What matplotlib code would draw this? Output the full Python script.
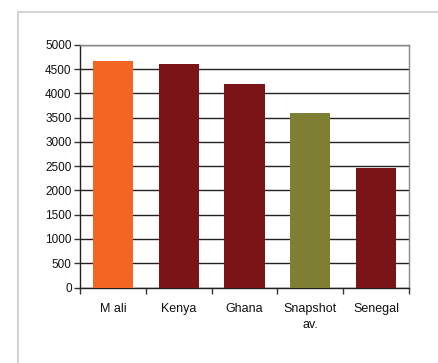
import matplotlib
matplotlib.use("Agg")
import matplotlib.pyplot as plt
from matplotlib.lines import Line2D

categories = ["M ali", "Kenya", "Ghana", "Snapshot\nav.", "Senegal"]
values = [4670, 4610, 4200, 3600, 2460]
colors = ["#F26522", "#7B1416", "#7B1416", "#7F7F33", "#7B1416"]
yticks = [0, 500, 1000, 1500, 2000, 2500, 3000, 3500, 4000, 4500, 5000]

W, H = 438, 363
fig = plt.figure(figsize=(W / 100, H / 100), dpi=100)
plt.rcParams['font.family'] = ['Liberation Sans', 'DejaVu Sans']

# outer frame
fig.add_artist(Line2D([18 / W, 18 / W], [0, 1 - 12 / H], color="#D4D4D4", lw=1.5, transform=fig.transFigure))
fig.add_artist(Line2D([18 / W, 1], [1 - 12 / H, 1 - 12 / H], color="#D4D4D4", lw=1.5, transform=fig.transFigure))

left, right, top, bottom = 80, 409, 45, 287.5
ax = fig.add_axes([left / W, 1 - bottom / H, (right - left) / W, (bottom - top) / H])

x = list(range(len(categories)))
ax.bar(x, values, width=0.61, color=colors, zorder=3)
ax.set_xlim(-0.5, len(categories) - 0.5)
ax.set_ylim(0, 5000)
ax.set_yticks(yticks)
ax.set_yticklabels([str(v) for v in yticks], fontsize=8.5, color='#111111')
ax.set_xticks([i - 0.5 for i in range(len(categories) + 1)], minor=False)
ax.set_xticklabels([])
ax.set_xticks(x, minor=True)
ax.set_xticklabels(categories, minor=True, fontsize=9, linespacing=1.45, color='#111111')
ax.tick_params(axis='x', which='minor', length=0, pad=11)
ax.tick_params(axis='x', which='major', length=4, width=1, direction='out', color='#333333')
ax.tick_params(axis='y', length=4, width=1, direction='out', color='#333333', pad=2)
ax.grid(axis='y', color='#222222', lw=1, zorder=1)
for s in ['top', 'right']:
    ax.spines[s].set_color('#888888')
    ax.spines[s].set_linewidth(1)
for s in ['left', 'bottom']:
    ax.spines[s].set_color('#222222')
    ax.spines[s].set_linewidth(1)

fig.savefig("out.png", dpi=100)
